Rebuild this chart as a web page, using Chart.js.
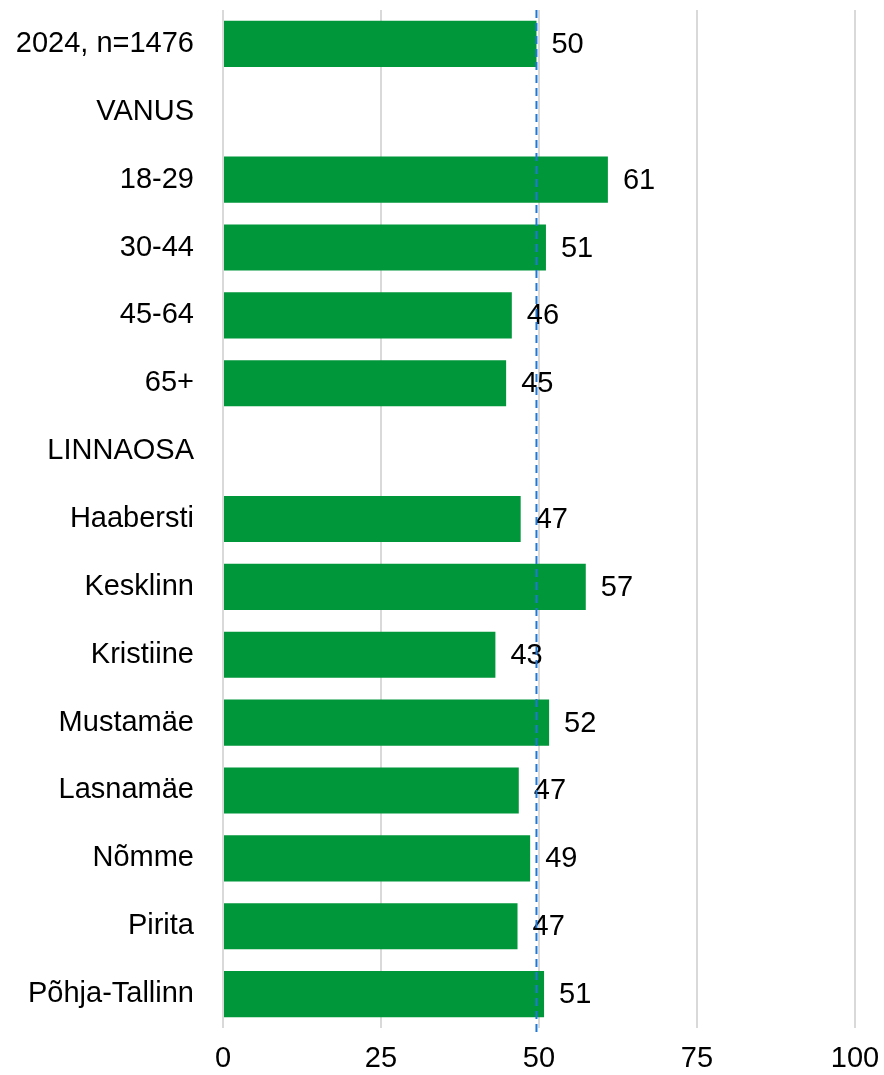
<!DOCTYPE html>
<html>
<head>
<meta charset="utf-8">
<script src="https://cdn.jsdelivr.net/npm/chart.js@4"></script>
<style>
  html, body { margin: 0; padding: 0; background: #fff; }
  #wrap { width: 884px; height: 1075px; position: relative; }
</style>
</head>
<body>
<div id="wrap"><canvas id="chart"></canvas></div>
<script>
// rows of the chart, group headers have no bar
const categories = ['2024, n=1476', 'VANUS', '18-29', '30-44', '45-64', '65+', 'LINNAOSA',
  'Haabersti', 'Kesklinn', 'Kristiine', 'Mustamäe', 'Lasnamäe', 'Nõmme', 'Pirita', 'Põhja-Tallinn'];
const values = [49.6, null, 60.9, 51.1, 45.7, 44.8, null,
  47.1, 57.4, 43.1, 51.6, 46.8, 48.6, 46.6, 50.8];
const xTicks = [0, 25, 50, 75, 100];
const refValue = 49.6; // total, drawn as dashed line

const FONT = '"Liberation Sans", Arial, sans-serif';

const valueLabels = {
  id: 'valueLabels',
  afterDatasetsDraw(chart) {
    const { ctx } = chart;
    const meta = chart.getDatasetMeta(0);
    ctx.save();
    ctx.font = `29px ${FONT}`;
    ctx.fillStyle = '#000';
    ctx.textAlign = 'left';
    ctx.textBaseline = 'middle';
    meta.data.forEach((bar, i) => {
      if (values[i] == null) return;
      ctx.fillText(String(Math.round(values[i])), bar.x + 15, bar.y + 1);
    });
    ctx.restore();
  }
};

const refLine = {
  id: 'refLine',
  afterDatasetsDraw(chart) {
    const { ctx, chartArea } = chart;
    const x = chart.scales.x.getPixelForValue(refValue);
    ctx.save();
    ctx.strokeStyle = '#1f78d8';
    ctx.lineWidth = 2;
    ctx.setLineDash([8, 5]);
    ctx.beginPath();
    ctx.moveTo(x, chartArea.top);
    ctx.lineTo(x, chartArea.bottom + 6);
    ctx.stroke();
    ctx.restore();
  }
};

new Chart(document.getElementById('chart'), {
  type: 'bar',
  data: {
    labels: categories,
    datasets: [{
      data: values,
      backgroundColor: '#00963a',
      borderWidth: 0,
      categoryPercentage: 1,
      barPercentage: 0.68,
    }]
  },
  options: {
    indexAxis: 'y',
    responsive: true,
    maintainAspectRatio: false,
    animation: false,
    layout: { padding: { top: 10, right: 29, bottom: 0, left: 0 } },
    plugins: { legend: { display: false }, tooltip: { enabled: false } },
    scales: {
      x: {
        min: 0, max: 100,
        afterBuildTicks(axis) { axis.ticks = xTicks.map((v) => ({ value: v })); },
        afterFit(axis) { axis.height = 47; axis.paddingLeft = 0; axis.paddingRight = 0; },
        grid: { color: '#d9d9d9', lineWidth: 2, drawTicks: false },
        border: { display: false },
        ticks: { color: '#000', font: { family: FONT, size: 29 }, padding: 14, maxRotation: 0 },
      },
      y: {
        afterFit(axis) { axis.width = 223; axis.paddingTop = 0; axis.paddingBottom = 0; },
        grid: { display: false },
        border: { display: false },
        ticks: { color: '#000', font: { family: FONT, size: 29 }, padding: 21, autoSkip: false },
      }
    }
  },
  plugins: [valueLabels, refLine]
});
</script>
</body>
</html>
